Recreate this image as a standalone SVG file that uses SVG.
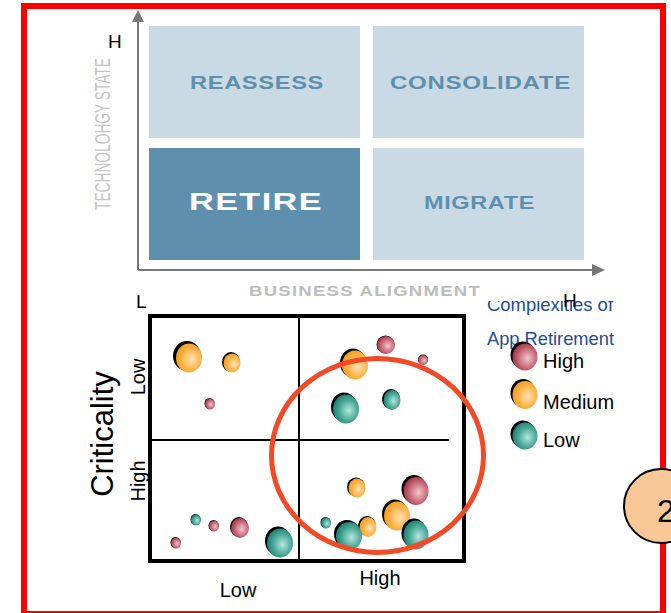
<svg xmlns="http://www.w3.org/2000/svg" width="671" height="613" viewBox="0 0 671 613">
<style>
.q{fill:#c9dae4}
.qd{fill:#5e90ae}
.ql{font-family:"Liberation Sans",Arial,sans-serif;font-weight:bold;fill:#5e90ae}
.ax{stroke:#777;stroke-width:2;fill:none}
.t{font-family:"Liberation Sans",Arial,sans-serif;fill:#000}
.bl{font-family:"Liberation Sans",Arial,sans-serif;fill:#1f4a9a;font-size:18.5px}
.sh{fill:#000}
</style>
<defs>
<radialGradient id="gR" cx="0.6" cy="0.55" r="0.6"><stop offset="0" stop-color="#f2c6cc"/><stop offset="0.6" stop-color="#c86a78"/><stop offset="1" stop-color="#9c3546"/></radialGradient>
<radialGradient id="gO" cx="0.6" cy="0.55" r="0.6"><stop offset="0" stop-color="#ffe2b8"/><stop offset="0.6" stop-color="#ffb54a"/><stop offset="1" stop-color="#f39a22"/></radialGradient>
<radialGradient id="gT" cx="0.6" cy="0.55" r="0.6"><stop offset="0" stop-color="#b6e6dc"/><stop offset="0.6" stop-color="#4aa898"/><stop offset="1" stop-color="#1f7e6e"/></radialGradient>
<clipPath id="clipC"><rect x="470" y="301" width="160" height="30"/></clipPath>
</defs>

<g id="frame">
<rect x="24" y="6" width="639" height="608" fill="none" stroke="#ff0000" stroke-width="6"/>
</g>

<g id="matrix-axes">
<line class="ax" x1="138" y1="270" x2="138" y2="20"/>
<polygon points="138,10 132,22 144,22" fill="#777"/>
<line class="ax" x1="138" y1="270" x2="594" y2="270"/>
<polygon points="605,270 592,264 592,276" fill="#777"/>
<text class="t" x="108" y="48" font-size="19">H</text>
<text transform="translate(110,134) rotate(-90)" text-anchor="middle" font-family="Liberation Sans,Arial,sans-serif" font-size="22" fill="#c4c4c4" textLength="152" lengthAdjust="spacingAndGlyphs">TECHNOLOHGY STATE</text>
<text x="249" y="296" font-family="Liberation Sans,Arial,sans-serif" font-weight="bold" font-size="15" letter-spacing="1" fill="#bcbcbc" textLength="232" lengthAdjust="spacingAndGlyphs">BUSINESS ALIGNMENT</text>
</g>

<g id="reassess">
<rect class="q" x="149" y="26" width="211" height="112"/>
<text class="ql" x="190" y="89" font-size="18" letter-spacing="0.5" textLength="134" lengthAdjust="spacingAndGlyphs">REASSESS</text>
</g>
<g id="consolidate">
<rect class="q" x="373" y="26" width="211" height="112"/>
<text class="ql" x="390" y="89" font-size="18" letter-spacing="0.5" textLength="181" lengthAdjust="spacingAndGlyphs">CONSOLIDATE</text>
</g>
<g id="retire">
<rect class="qd" x="149" y="148" width="211" height="112"/>
<text x="189" y="210" font-family="Liberation Sans,Arial,sans-serif" font-weight="bold" font-size="24" letter-spacing="1" fill="#fff" textLength="134" lengthAdjust="spacingAndGlyphs">RETIRE</text>
</g>
<g id="migrate">
<rect class="q" x="373" y="148" width="211" height="112"/>
<text class="ql" x="424" y="209" font-size="18" letter-spacing="0.5" textLength="111" lengthAdjust="spacingAndGlyphs">MIGRATE</text>
</g>

<g id="chart">
<text class="t" x="136" y="308" font-size="19">L</text>
<rect x="150" y="316" width="314" height="245" fill="none" stroke="#000" stroke-width="4"/>
<line x1="299" y1="316" x2="299" y2="561" stroke="#000" stroke-width="2"/>
<line x1="150" y1="440" x2="449" y2="440" stroke="#000" stroke-width="2"/>
<text class="t" transform="translate(113,434) rotate(-90)" text-anchor="middle" font-size="31">Criticality</text>
<text class="t" transform="translate(145,377) rotate(-90)" text-anchor="middle" font-size="20">Low</text>
<text class="t" transform="translate(145,481) rotate(-90)" text-anchor="middle" font-size="20">High</text>
<text class="t" x="238" y="597" text-anchor="middle" font-size="20">Low</text>
<text class="t" x="380" y="585" text-anchor="middle" font-size="20">High</text>
</g>

<g id="bubbles">
<ellipse class="sh" cx="187" cy="356" rx="14" ry="15"/><ellipse cx="189" cy="358" rx="13" ry="14.5" fill="url(#gO)"/>
<ellipse class="sh" cx="231" cy="362" rx="9" ry="10"/><ellipse cx="232" cy="363" rx="8.5" ry="9.5" fill="url(#gO)"/>
<ellipse class="sh" cx="209.5" cy="403.5" rx="5" ry="5.5"/><ellipse cx="210" cy="404" rx="5" ry="5.5" fill="url(#gR)"/>
<ellipse class="sh" cx="385.5" cy="344.5" rx="9" ry="9"/><ellipse cx="386" cy="345" rx="9" ry="9" fill="url(#gR)"/>
<ellipse class="sh" cx="353" cy="363" rx="13" ry="14.5"/><ellipse cx="355" cy="365" rx="13" ry="14.5" fill="url(#gO)"/>
<ellipse class="sh" cx="423" cy="359.5" rx="5" ry="5"/><ellipse cx="423" cy="360" rx="5" ry="5" fill="url(#gR)"/>
<ellipse class="sh" cx="344" cy="407" rx="13" ry="14.5"/><ellipse cx="346" cy="409" rx="13" ry="14.5" fill="url(#gT)"/>
<ellipse class="sh" cx="391" cy="399" rx="9" ry="10"/><ellipse cx="392" cy="400" rx="8.5" ry="10" fill="url(#gT)"/>
<ellipse class="sh" cx="356" cy="487" rx="9" ry="9.5"/><ellipse cx="357" cy="488" rx="8.5" ry="9.5" fill="url(#gO)"/>
<ellipse class="sh" cx="414" cy="489" rx="12.5" ry="14"/><ellipse cx="416" cy="491" rx="12.5" ry="14" fill="url(#gR)"/>
<ellipse class="sh" cx="395" cy="514" rx="13" ry="14.5"/><ellipse cx="397" cy="516" rx="13" ry="14.5" fill="url(#gO)"/>
<ellipse class="sh" cx="325.5" cy="522.5" rx="5" ry="5.5"/><ellipse cx="326" cy="523" rx="5" ry="5.5" fill="url(#gT)"/>
<ellipse class="sh" cx="367" cy="526" rx="9" ry="10"/><ellipse cx="368" cy="527" rx="8.5" ry="10" fill="url(#gO)"/>
<ellipse class="sh" cx="347" cy="534" rx="13" ry="14"/><ellipse cx="349" cy="536" rx="13" ry="14" fill="url(#gT)"/>
<ellipse class="sh" cx="414" cy="533" rx="12.5" ry="14.5"/><ellipse cx="416" cy="535" rx="12.5" ry="14.5" fill="url(#gT)"/>
<ellipse class="sh" cx="195.5" cy="519.5" rx="5" ry="5.5"/><ellipse cx="196" cy="520" rx="5" ry="5.5" fill="url(#gT)"/>
<ellipse class="sh" cx="213.5" cy="525.5" rx="5" ry="5.5"/><ellipse cx="214" cy="526" rx="5" ry="5.5" fill="url(#gR)"/>
<ellipse class="sh" cx="239" cy="527" rx="9" ry="10"/><ellipse cx="240" cy="528" rx="9" ry="10" fill="url(#gR)"/>
<ellipse class="sh" cx="175.5" cy="542.5" rx="5" ry="5.5"/><ellipse cx="176" cy="543" rx="5" ry="5.5" fill="url(#gR)"/>
<ellipse class="sh" cx="278" cy="541" rx="13" ry="14.5"/><ellipse cx="280" cy="543" rx="13" ry="14.5" fill="url(#gT)"/>
</g>

<g id="highlight">
<ellipse cx="377.5" cy="455.5" rx="106" ry="97" fill="none" stroke="#f24a26" stroke-width="5"/>
</g>

<g id="legend">
<text class="bl" x="487" y="311" clip-path="url(#clipC)" textLength="126" lengthAdjust="spacingAndGlyphs">Complexities of</text>
<text class="t" x="563" y="307" font-size="19">H</text>
<text class="bl" x="487" y="345" textLength="127" lengthAdjust="spacingAndGlyphs">App Retirement</text>
<ellipse class="sh" cx="523" cy="355" rx="12.5" ry="13.5"/><ellipse cx="525" cy="357" rx="12.5" ry="13.5" fill="url(#gR)"/>
<text class="t" x="543" y="368" font-size="20">High</text>
<ellipse class="sh" cx="523" cy="393" rx="12.5" ry="14"/><ellipse cx="525" cy="395" rx="12.5" ry="14" fill="url(#gO)"/>
<text class="t" x="543" y="409" font-size="20">Medium</text>
<ellipse class="sh" cx="523" cy="434" rx="12.5" ry="13.5"/><ellipse cx="525" cy="436" rx="12.5" ry="13.5" fill="url(#gT)"/>
<text class="t" x="543" y="447" font-size="20">Low</text>
</g>

<g id="badge">
<ellipse cx="661" cy="506" rx="37" ry="37" fill="#fac896" stroke="#000" stroke-width="2"/>
<text class="t" x="657" y="522" font-size="32">2</text>
</g>
</svg>
